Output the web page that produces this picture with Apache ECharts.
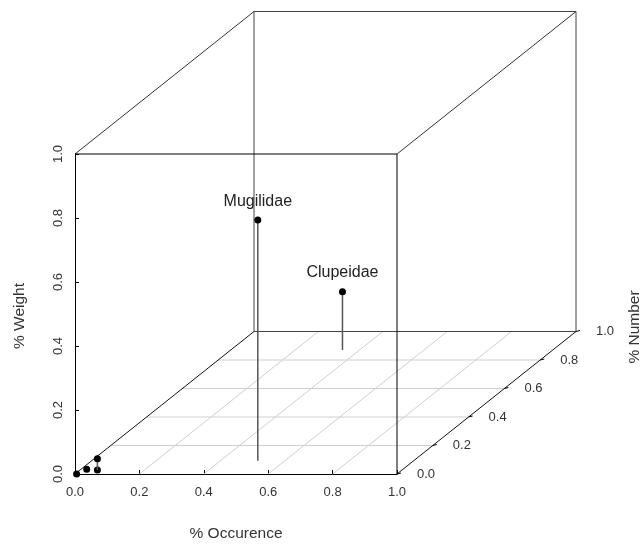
<!DOCTYPE html>
<html>
<head>
<meta charset="utf-8">
<script src="https://cdn.jsdelivr.net/npm/echarts@6/dist/echarts.min.js"></script>
<style>html,body{margin:0;padding:0;background:#fff}#c{width:642px;height:548px}</style>
</head>
<body>
<div id="c"></div>
<script>
// ---- data ----
const familyNames = ['', '', '', '', 'Mugilidae', 'Clupeidae'];
const pctOccurence = [0.005, 0.018, 0.054, 0.054, 0.516, 0.347];
const pctNumber    = [0.000, 0.033, 0.028, 0.028, 0.093, 0.870];
const pctWeight    = [0.000, 0.000, 0.000, 0.035, 0.752, 0.182];
const tickValues = [0, 0.2, 0.4, 0.6, 0.8, 1.0];
const tickLabels = ['0.0', '0.2', '0.4', '0.6', '0.8', '1.0'];
const axisTitles = { x: '% Occurence', y: '% Number', z: '% Weight' };

// oblique projection of the depth axis (in front-face data units)
const DX = 179 / 322, DZ = 142.5 / 320;
function P(api, x, y, z) { return api.coord([x + y * DX, z + y * DZ]); }

const FONT = 'Liberation Sans, Arial, sans-serif';

function line(a, b, stroke, w) {
  return { type: 'line', shape: { x1: a[0], y1: a[1], x2: b[0], y2: b[1] },
           style: { stroke: stroke, lineWidth: w || 1 }, silent: true };
}

function renderFrame(params, api) {
  const ch = [];
  // floor grid
  tickValues.forEach(t => {
    if (t === 0 || t === 1) return;
    ch.push(line(P(api, t, 0, 0), P(api, t, 1, 0), '#cfcfcf'));
    ch.push(line(P(api, 0, t, 0), P(api, 1, t, 0), '#cfcfcf'));
  });
  // box edges
  const edges = [
    [[0,1,0],[0,1,1],'#444'], [[1,1,0],[1,1,1],'#444'],
    [[0,1,1],[1,1,1],'#444'], [[0,1,0],[1,1,0],'#444'],
    [[0,0,0],[0,1,0],'#111'], [[1,0,0],[1,1,0],'#111'],
    [[0,0,1],[0,1,1],'#333'], [[1,0,1],[1,1,1],'#333'],
    [[0,0,1],[1,0,1],'#000'], [[1,0,0],[1,0,1],'#000']
  ];
  edges.forEach(e => ch.push(line(P(api, ...e[0]), P(api, ...e[1]), e[2])));
  // depth axis ticks + labels
  tickValues.forEach((t, i) => {
    const p = P(api, 1, t, 0);
    ch.push(line([p[0], p[1]], [p[0] + 4, p[1] - 1], '#000'));
    ch.push({ type: 'text', silent: true,
      style: { x: p[0] + 20, y: p[1], text: tickLabels[i], fill: '#333',
               font: '13px ' + FONT, textAlign: 'left', textVerticalAlign: 'middle' } });
  });
  return { type: 'group', children: ch };
}

function renderPoint(params, api) {
  const i = params.dataIndex;
  const x = api.value(0), y = api.value(1), z = api.value(2);
  const top = P(api, x, y, z), base = P(api, x, y, 0);
  const ch = [
    line(base, top, '#555', 1.5),
    { type: 'circle', shape: { cx: top[0], cy: top[1], r: 3.5 }, style: { fill: '#000' } }
  ];
  if (familyNames[i]) {
    ch.push({ type: 'text', style: { x: top[0], y: top[1] - 19, text: familyNames[i],
      fill: '#222', font: '16px ' + FONT, textAlign: 'center', textVerticalAlign: 'middle' } });
  }
  return { type: 'group', children: ch };
}

const chart = echarts.init(document.getElementById('c'), null, { renderer: 'canvas' });
chart.setOption({
  animation: false,
  backgroundColor: '#fff',
  grid: { left: 75, top: 154, width: 322, height: 320 },
  xAxis: {
    type: 'value', min: 0, max: 1, interval: 0.2,
    axisLine: { show: true, lineStyle: { color: '#000', width: 1 } },
    axisTick: { show: true, inside: true, length: 4, lineStyle: { color: '#000' } },
    axisLabel: { formatter: v => v.toFixed(1), fontSize: 13, color: '#333', fontFamily: FONT, margin: 12 },
    splitLine: { show: false },
    name: axisTitles.x, nameLocation: 'middle', nameGap: 52,
    nameTextStyle: { fontSize: 15.5, color: '#333', fontFamily: FONT }
  },
  yAxis: {
    type: 'value', min: 0, max: 1, interval: 0.2,
    axisLine: { show: true, lineStyle: { color: '#000', width: 1 } },
    axisTick: { show: true, inside: true, length: 4, lineStyle: { color: '#000' } },
    axisLabel: { formatter: v => v.toFixed(1), fontSize: 13, color: '#333', fontFamily: FONT, rotate: 90, margin: 10 },
    splitLine: { show: false }
  },
  graphic: [
    { type: 'text', x: 20, y: 316, rotation: Math.PI / 2,
      style: { text: axisTitles.z, font: '15.5px ' + FONT, fill: '#333', textAlign: 'center', textVerticalAlign: 'middle' } },
    { type: 'text', x: 635, y: 327, rotation: Math.PI / 2,
      style: { text: axisTitles.y, font: '15.5px ' + FONT, fill: '#333', textAlign: 'center', textVerticalAlign: 'middle' } }
  ],
  series: [
    { type: 'custom', clip: false, silent: true, z: 1, data: [[0]], renderItem: renderFrame },
    { type: 'custom', clip: false, silent: true, z: 3,
      data: pctOccurence.map((v, i) => [v, pctNumber[i], pctWeight[i]]),
      encode: { x: 0, y: 2 },
      renderItem: renderPoint }
  ]
});
</script>
</body>
</html>
